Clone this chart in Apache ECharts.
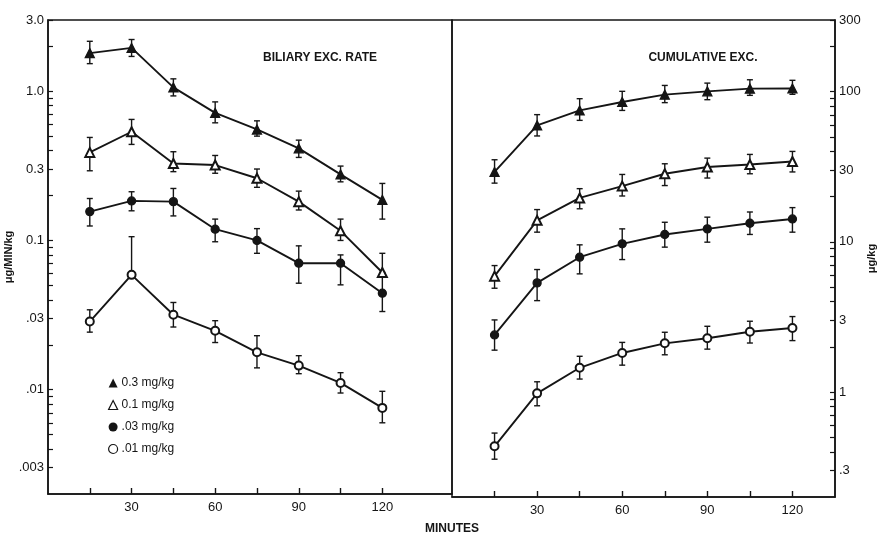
<!DOCTYPE html>
<html><head><meta charset="utf-8">
<script src="https://cdn.jsdelivr.net/npm/echarts@6/dist/echarts.min.js"></script>
<style>html,body{margin:0;padding:0;background:#fff}#c{width:880px;height:536px}</style>
</head><body><div id="c"></div>
<script>
// ---------------- data ----------------
const minutes = [15, 30, 45, 60, 75, 90, 105, 120];
const doseNames = ['0.3 mg/kg', '0.1 mg/kg', '.03 mg/kg', '.01 mg/kg'];

// Biliary excretion rate (µg/min/kg): mean, upper and lower error-bar ends
const rate03   = [1.80, 1.95, 1.06, 0.716, 0.554, 0.414, 0.277, 0.187];
const rate03Hi = [2.16, 2.22, 1.21, 0.848, 0.633, 0.470, 0.315, 0.241];
const rate03Lo = [1.53, 1.71, 0.93, 0.614, 0.500, 0.360, 0.247, 0.139];

const rate01   = [0.389, 0.535, 0.328, 0.320, 0.261, 0.182, 0.116, 0.061];
const rate01Hi = [0.490, 0.647, 0.393, 0.371, 0.301, 0.214, 0.139, 0.082];
const rate01Lo = [0.293, 0.440, 0.289, 0.282, 0.227, 0.160, 0.100, 0.057];

const rate003   = [0.156, 0.184, 0.182, 0.119, 0.100, 0.0704, 0.0704, 0.0443];
const rate003Hi = [0.191, 0.212, 0.223, 0.139, 0.120, 0.092, 0.080, 0.061];
const rate003Lo = [0.125, 0.158, 0.146, 0.098, 0.082, 0.0517, 0.0504, 0.0334];

const rate001   = [0.0286, 0.0588, 0.0318, 0.0248, 0.0178, 0.0145, 0.0111, 0.00755];
const rate001Hi = [0.0343, 0.106, 0.0384, 0.0290, 0.0230, 0.0169, 0.0130, 0.00975];
const rate001Lo = [0.0243, 0.0588, 0.0263, 0.0207, 0.0140, 0.0128, 0.0095, 0.0060];

// Cumulative excretion (µg/kg)
const cum03   = [29.2, 59.6, 75.0, 85.4, 95.5, 100.5, 104.7, 105];
const cum03Hi = [35.2, 70.3, 89.8, 100.5, 110, 114, 120, 119];
const cum03Lo = [24.6, 50.7, 64.4, 75.0, 84.5, 88.4, 94.5, 96];

const cum01   = [5.91, 13.9, 19.6, 23.5, 28.4, 31.5, 32.7, 34.3];
const cum01Hi = [6.95, 16.4, 22.6, 28.1, 33.1, 36.1, 38.2, 40.0];
const cum01Lo = [4.91, 11.6, 16.6, 20.2, 23.7, 26.6, 28.4, 29.2];

const cum003   = [2.40, 5.33, 7.90, 9.70, 11.2, 12.2, 13.3, 14.2];
const cum003Hi = [3.02, 6.54, 9.55, 12.2, 13.5, 14.6, 15.8, 16.9];
const cum003Lo = [1.90, 4.06, 6.12, 7.62, 9.22, 9.95, 11.2, 11.6];

const cum001   = [0.435, 0.98, 1.45, 1.82, 2.11, 2.28, 2.52, 2.67];
const cum001Hi = [0.533, 1.17, 1.73, 2.14, 2.50, 2.74, 2.96, 3.18];
const cum001Lo = [0.357, 0.81, 1.22, 1.51, 1.77, 1.93, 2.12, 2.20];

// tick labels
const xTickValues = [15, 30, 45, 60, 75, 90, 105, 120];
const xLabelValues = [30, 60, 90, 120];
const leftTickValues = [0.003, 0.01, 0.03, 0.1, 0.3, 1, 3];
const leftTickLabels = ['.003', '.01', '.03', '0.1', '0.3', '1.0', '3.0'];
const rightTickValues = [0.3, 1, 3, 10, 30, 100, 300];
const rightTickLabels = ['.3', '1', '3', '10', '30', '100', '300'];
const leftMinorValues = [0.004, 0.005, 0.006, 0.007, 0.008, 0.009, 0.02, 0.04, 0.05, 0.06, 0.07, 0.08, 0.09, 0.2, 0.4, 0.5, 0.6, 0.7, 0.8, 0.9, 2];
const rightMinorValues = [0.4, 0.5, 0.6, 0.7, 0.8, 0.9, 2, 4, 5, 6, 7, 8, 9, 20, 40, 50, 60, 70, 80, 90, 200];

// ---------------- helpers ----------------
const L = v => Math.log10(v);
const INK = '#151515';
const FONT = '"Liberation Sans", Arial, sans-serif';

function labelFor(values, labels) {
  return function (v) {
    for (let i = 0; i < values.length; i++) {
      if (Math.abs(L(values[i]) - v) < 1e-6) return labels[i];
    }
    return '';
  };
}

function lineData(vals) { return minutes.map((m, i) => [m, L(vals[i])]); }
function errData(lo, hi) { return minutes.map((m, i) => [m, L(lo[i]), L(hi[i])]); }

function renderErr(params, api) {
  const x = api.value(0);
  const p1 = api.coord([x, api.value(2)]);
  const p2 = api.coord([x, api.value(1)]);
  const w = 3;
  const st = { stroke: INK, lineWidth: 1.4 };
  return {
    type: 'group',
    children: [
      { type: 'line', shape: { x1: p1[0], y1: p1[1], x2: p2[0], y2: p2[1] }, style: st },
      { type: 'line', shape: { x1: p1[0] - w, y1: p1[1], x2: p1[0] + w, y2: p1[1] }, style: st },
      { type: 'line', shape: { x1: p2[0] - w, y1: p2[1], x2: p2[0] + w, y2: p2[1] }, style: st }
    ]
  };
}

const symbols = ['triangle', 'emptyTriangle', 'circle', 'emptyCircle'];
const symbolSizes = [9, 9, 8, 8];

const leftSets = [[rate03, rate03Lo, rate03Hi], [rate01, rate01Lo, rate01Hi], [rate003, rate003Lo, rate003Hi], [rate001, rate001Lo, rate001Hi]];
const rightSets = [[cum03, cum03Lo, cum03Hi], [cum01, cum01Lo, cum01Hi], [cum003, cum003Lo, cum003Hi], [cum001, cum001Lo, cum001Hi]];

const series = [];
[leftSets, rightSets].forEach((sets, gi) => {
  sets.forEach((s, k) => {
    series.push({
      type: 'custom', name: doseNames[k], xAxisIndex: gi, yAxisIndex: gi,
      renderItem: renderErr, data: errData(s[1], s[2]),
      encode: { x: 0, y: [1, 2] }, z: 1, silent: true
    });
    series.push({
      type: 'line', name: doseNames[k], xAxisIndex: gi, yAxisIndex: gi,
      data: lineData(s[0]), symbol: symbols[k], symbolSize: symbolSizes[k],
      showAllSymbol: true, z: 3,
      lineStyle: { color: INK, width: 1.9 },
      itemStyle: { color: INK, borderColor: INK, borderWidth: 1.3 },
      emphasis: { disabled: true }, animation: false
    });
  });
});

function xAxisCfg(idx, max) {
  return {
    type: 'value', gridIndex: idx, min: 0, max: max, position: 'bottom',
    splitLine: { show: false },
    axisLine: { show: true, onZero: false, lineStyle: { color: INK, width: 1.5 } },
    axisTick: { show: true, inside: true, length: 6, customValues: xTickValues, lineStyle: { color: INK, width: 1.4 } },
    axisLabel: { customValues: xLabelValues, color: INK, fontSize: 13, fontFamily: FONT, margin: 7 }
  };
}

function yAxisCfg(idx, min, max, tickVals, tickLabels, minorVals, pos, name, nameGap) {
  const all = tickVals.concat(minorVals).map(L);
  return {
    type: 'value', gridIndex: idx, position: pos,
    min: L(min), max: L(max),
    splitLine: { show: false },
    axisLine: { show: true, onZero: false, lineStyle: { color: INK, width: 1.5 } },
    axisTick: { show: true, inside: true, length: 5, customValues: all, lineStyle: { color: INK, width: 1.2 } },
    axisLabel: {
      customValues: tickVals.map(L), formatter: labelFor(tickVals, tickLabels),
      color: INK, fontSize: 13, fontFamily: FONT, margin: 4
    },
    name: name, nameLocation: 'middle', nameRotate: 90, nameGap: nameGap,
    nameTextStyle: { color: INK, fontSize: 11, fontWeight: 'bold', fontFamily: FONT }
  };
}

const chart = echarts.init(document.getElementById('c'), null, { renderer: 'canvas' });
chart.setOption({
  animation: false,
  backgroundColor: '#fff',
  grid: [
    { left: 48, top: 20, width: 404, height: 474, show: true, borderColor: INK, borderWidth: 1.5, backgroundColor: 'transparent' },
    { left: 452, top: 20, width: 383, height: 477, show: true, borderColor: INK, borderWidth: 1.5, backgroundColor: 'transparent' }
  ],
  xAxis: [xAxisCfg(0, 145), xAxisCfg(1, 135)],
  yAxis: [
    yAxisCfg(0, 0.002, 3, leftTickValues, leftTickLabels, leftMinorValues, 'left', 'μg/MIN/kg', 31),
    yAxisCfg(1, 0.2, 300, rightTickValues, rightTickLabels, rightMinorValues, 'right', 'μg/kg', 31)
  ],
  legend: {
    orient: 'vertical', left: 104, top: 373,
    itemWidth: 9, itemHeight: 9, itemGap: 10, padding: 4,
    textStyle: { color: INK, fontSize: 12, fontFamily: FONT, padding: [0, 0, 0, -1] },
    selectedMode: false,
    data: [
      { name: doseNames[0], icon: 'triangle', itemStyle: { color: INK, borderColor: INK } },
      { name: doseNames[1], icon: 'triangle', itemStyle: { color: '#fff', borderColor: INK, borderWidth: 1.2 } },
      { name: doseNames[2], icon: 'circle', itemStyle: { color: INK, borderColor: INK } },
      { name: doseNames[3], icon: 'circle', itemStyle: { color: '#fff', borderColor: INK, borderWidth: 1.2 } }
    ]
  },
  graphic: [
    { type: 'text', x: 320, y: 58, style: { text: 'BILIARY EXC. RATE', fill: INK, font: 'bold 12px ' + FONT, align: 'center', verticalAlign: 'middle' } },
    { type: 'text', x: 703, y: 58, style: { text: 'CUMULATIVE EXC.', fill: INK, font: 'bold 12px ' + FONT, align: 'center', verticalAlign: 'middle' } },
    { type: 'text', x: 452, y: 529, style: { text: 'MINUTES', fill: INK, font: 'bold 12px ' + FONT, align: 'center', verticalAlign: 'middle' } }
  ],
  series: series
});
</script>
</body></html>
